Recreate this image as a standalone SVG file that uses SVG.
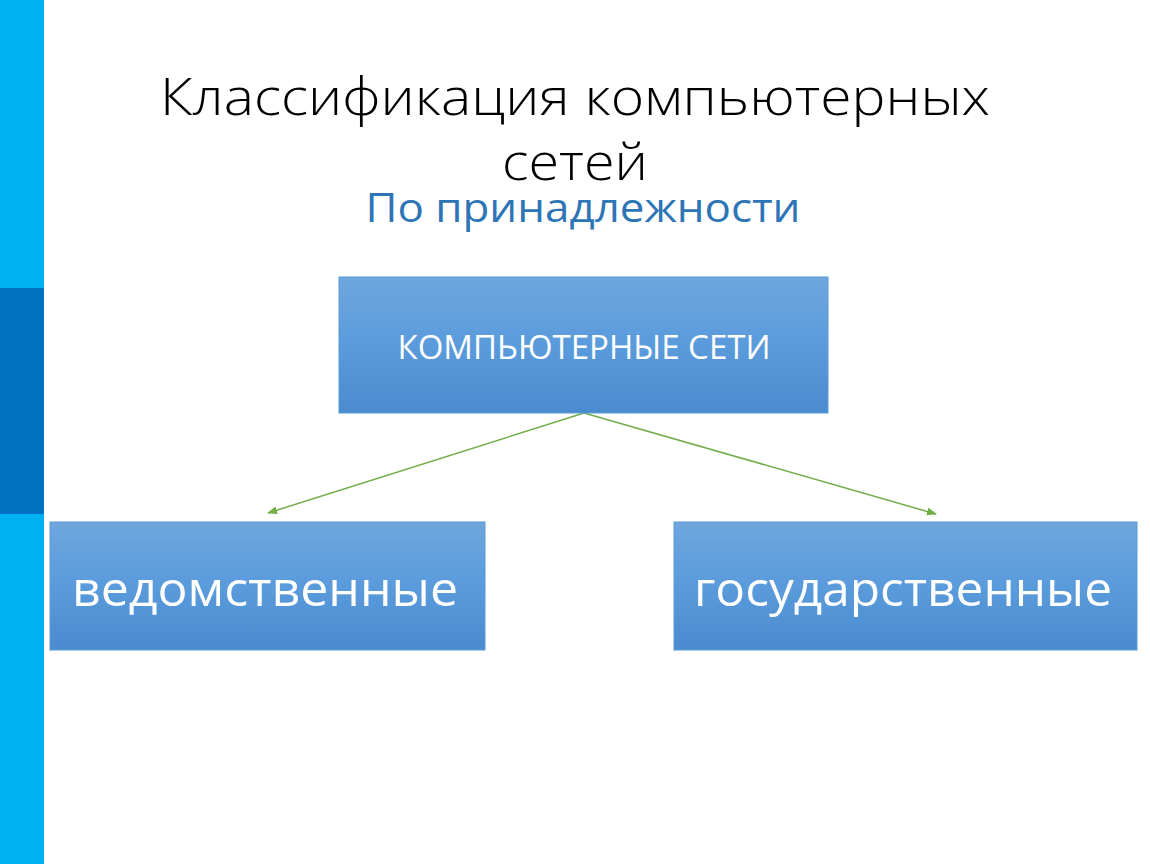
<svg xmlns="http://www.w3.org/2000/svg" width="1150" height="864" viewBox="0 0 1150 864">
<style>
.t{font-family:"Open Sans","Liberation Sans",sans-serif;text-anchor:middle}
.box{fill:url(#g);stroke:#5B9BD5;stroke-width:1}
.lbl{fill:#fff}
.c{stroke:#70AD47;stroke-width:1.5;fill:none;marker-end:url(#a)}
</style>
<defs>
<linearGradient id="g" x1="0" y1="0" x2="0" y2="1"><stop offset="0" stop-color="#6FA6DE"/><stop offset="0.5" stop-color="#5A9BDC"/><stop offset="1" stop-color="#4A8BCF"/></linearGradient>
<marker id="a" markerWidth="10" markerHeight="8" refX="9" refY="4" orient="auto" markerUnits="userSpaceOnUse"><path d="M0,0 L10,4 L0,8 z" fill="#70AD47"/></marker>
</defs>
<rect width="1150" height="864" fill="#fff"/>
<rect x="0" y="0" width="44" height="864" fill="#00B0F0"/>
<rect x="0" y="288" width="44" height="226" fill="#0070C0"/>
<text class="t" x="575" y="115" font-size="52" font-weight="300" fill="#000" textLength="830" lengthAdjust="spacingAndGlyphs">Классификация компьютерных</text>
<text class="t" x="575" y="180" font-size="52" font-weight="300" fill="#000" textLength="146" lengthAdjust="spacingAndGlyphs">сетей</text>
<text class="t" x="583" y="222" font-size="40" fill="#2E75B6" textLength="435" lengthAdjust="spacingAndGlyphs">По принадлежности</text>
<g id="connectors">
<line class="c" x1="584" y1="413" x2="268" y2="513"/>
<line class="c" x1="584" y1="413" x2="936" y2="514"/>
</g>
<g id="root"><rect class="box" x="339" y="277" width="489" height="136"/><text class="t lbl" x="584" y="359" font-size="32" textLength="373" lengthAdjust="spacingAndGlyphs">КОМПЬЮТЕРНЫЕ СЕТИ</text></g>
<g id="left"><rect class="box" x="50" y="522" width="435" height="128"/><text class="t lbl" x="265" y="606" font-size="48" textLength="386" lengthAdjust="spacingAndGlyphs">ведомственные</text></g>
<g id="right"><rect class="box" x="674" y="522" width="463" height="128"/><text class="t lbl" x="903" y="606" font-size="48" textLength="418" lengthAdjust="spacingAndGlyphs">государственные</text></g>
</svg>
